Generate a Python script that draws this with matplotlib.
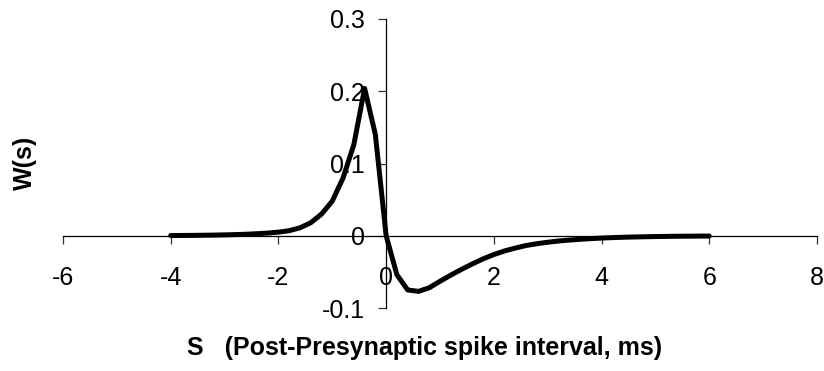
import matplotlib
matplotlib.use("Agg")
import matplotlib.pyplot as plt
import numpy as np

# Data (step 0.2 ms)
s_values = [-4.0, -3.8, -3.6, -3.4, -3.2, -3.0, -2.8, -2.6, -2.4, -2.2,
            -2.0, -1.8, -1.6, -1.4, -1.2, -1.0, -0.8, -0.6, -0.4, -0.2,
            0.0, 0.2, 0.4, 0.6, 0.8, 1.0, 1.2, 1.4, 1.6, 1.8,
            2.0, 2.2, 2.4, 2.6, 2.8, 3.0, 3.2, 3.4, 3.6, 3.8,
            4.0, 4.2, 4.4, 4.6, 4.8, 5.0, 5.2, 5.4, 5.6, 5.8, 6.0]
w_values = [0.0003, 0.0004, 0.0005, 0.0007, 0.0009, 0.0012, 0.0016, 0.0021, 0.0028, 0.0037,
            0.0050, 0.0070, 0.0110, 0.0180, 0.0300, 0.0480, 0.0800, 0.1260, 0.2040, 0.1400,
            0.0000, -0.0540, -0.0750, -0.0770, -0.0720, -0.0630, -0.0545, -0.0465, -0.0390, -0.0320,
            -0.0260, -0.0210, -0.0170, -0.0135, -0.0110, -0.0090, -0.0073, -0.0060, -0.0049, -0.0040,
            -0.0032, -0.0026, -0.0021, -0.0017, -0.0014, -0.0011, -0.0009, -0.0007, -0.0006, -0.0005, -0.0004]

x_ticks = [-6, -4, -2, 0, 2, 4, 6, 8]
y_ticks = [-0.1, 0, 0.1, 0.2, 0.3]
y_tick_labels = ["-0.1", "0", "0.1", "0.2", "0.3"]

plt.rcParams['font.family'] = ['Liberation Sans', 'DejaVu Sans']

W, H = 824, 371
fig = plt.figure(figsize=(W / 100, H / 100), dpi=100)
left, right, top, bottom = 63, 817, 19, 308
ax = fig.add_axes([left / W, 1 - bottom / H, (right - left) / W, (bottom - top) / H])

ax.plot(s_values, w_values, color='black', lw=3.6, solid_joinstyle='round', solid_capstyle='round', zorder=3)

ax.set_xlim(-6, 8)
ax.set_ylim(-0.1, 0.3)

for side in ['top', 'right']:
    ax.spines[side].set_visible(False)
ax.spines['left'].set_position(('data', 0))
ax.spines['bottom'].set_position(('data', 0))
for side in ['left', 'bottom']:
    ax.spines[side].set_color('#000000')
    ax.spines[side].set_linewidth(0.9)

ax.set_xticks(x_ticks)
ax.set_xticklabels([str(v) for v in x_ticks])
ax.set_yticks(y_ticks)
ax.set_yticklabels(y_tick_labels)
ax.tick_params(axis='x', direction='out', length=6, width=0.9, pad=16, labelsize=18, color='#333333')
ax.tick_params(axis='y', direction='out', length=5.5, width=0.9, pad=10, labelsize=18, color='#333333')
for lbl in ax.get_xticklabels() + ax.get_yticklabels():
    lbl.set_zorder(1)

fig.text(425 / W, 1 - 348 / H, "S   (Post-Presynaptic spike interval, ms)",
         ha='center', va='center', fontsize=18, fontweight='bold')
fig.text(25 / W, 1 - 163 / H, "W(s)", ha='center', va='center', rotation=90,
         fontsize=18, fontweight='bold')

fig.savefig("out.png", dpi=100)
